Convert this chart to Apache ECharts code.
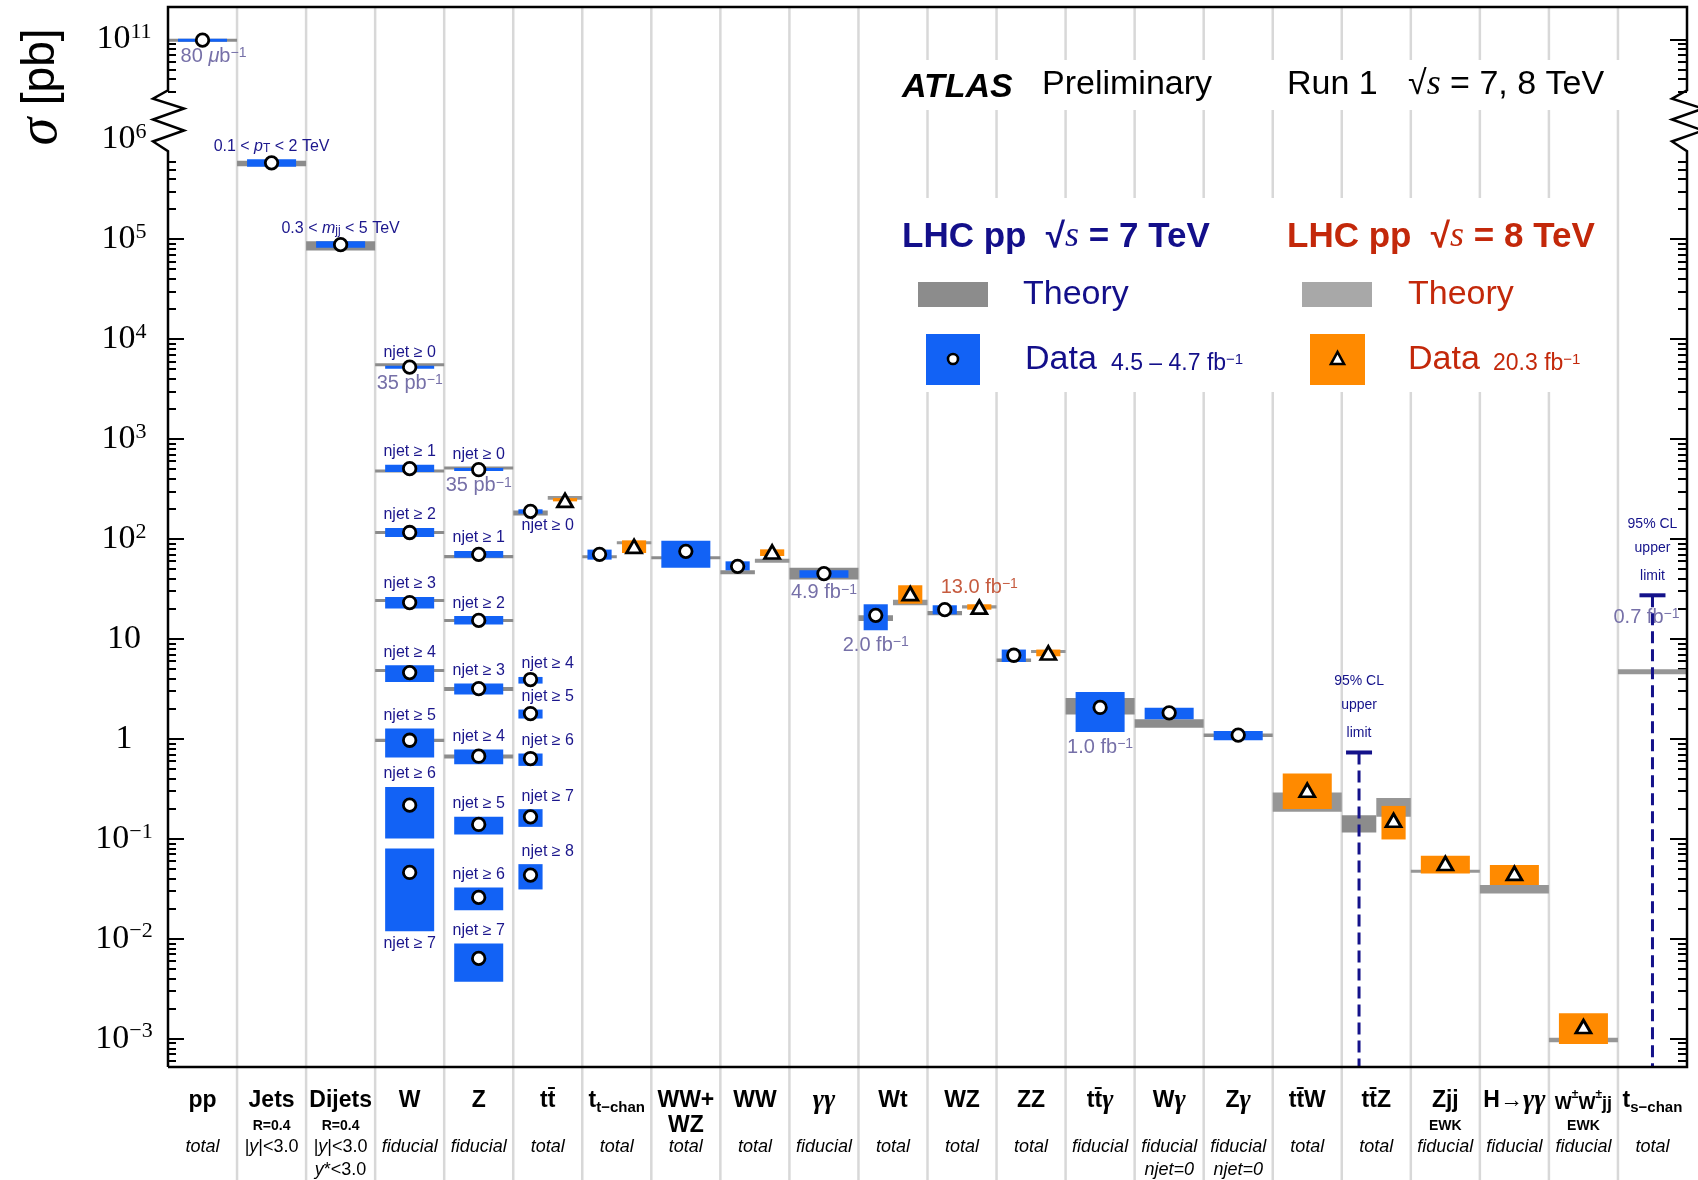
<!DOCTYPE html>
<html>
<head>
<meta charset="utf-8">
<title>ATLAS Run 1 cross sections</title>
<script src="https://cdn.jsdelivr.net/npm/echarts@6.0.0/dist/echarts.min.js"></script>
<style>
  html, body { margin: 0; padding: 0; background: #ffffff; }
  #chart { width: 1698px; height: 1180px; }
</style>
</head>
<body>
<div id="chart"></div>
<script>
const SANS = "'Liberation Sans', Arial, Helvetica, sans-serif"
const SERIF = "'Liberation Serif', 'Times New Roman', serif"
const NAVY = '#1b168c'
const LIMIT_NAVY = '#14128a'
const NOTE7 = '#7670a8'
const NOTE8 = '#c65b3f'
const BLUE = '#1262f5'
const ORANGE = '#ff8a00'
const GRAY7 = '#8c8c8c'
const GRAY8 = '#969696'

// processes along the bottom
const categories = ['pp', 'Jets', 'Dijets', 'W', 'Z', 'ttbar', 't t-chan', 'WW+WZ', 'WW', 'γγ', 'Wt', 'WZ', 'ZZ',
  'ttbarγ', 'Wγ', 'Zγ', 'ttbarW', 'ttbarZ', 'Zjj', 'H→γγ', 'W±W±jj', 't s-chan']
const labelRow1 = ['pp', 'Jets', 'Dijets', 'W', 'Z', 'tt\u0304', 't{sub|t\u2212chan}', 'WW+', 'WW', '{g|γγ}', 'Wt', 'WZ', 'ZZ',
  'tt\u0304{g|γ}', 'W{g|γ}', 'Z{g|γ}', 'tt\u0304W', 'tt\u0304Z', 'Zjj', 'H\u2192{g|γγ}', '{s|W}{pm|±}{s|W}{pm|±}{s|jj}', 't{sub|s\u2212chan}']
const labelRow2 = ['', 'R=0.4', 'R=0.4', '', '', '', '', '{big|WZ}', '', '', '', '', '', '', '', '', '', '', 'EWK', '', 'EWK', '']
const labelRow3 = ['total', '{r||}y{r||<3.0}', '{r||}y{r||<3.0}', 'fiducial', 'fiducial', 'total', 'total', 'total', 'total',
  'fiducial', 'total', 'total', 'total', 'fiducial', 'fiducial', 'fiducial', 'total', 'total', 'fiducial', 'fiducial', 'fiducial', 'total']
const labelRow4 = ['', '', 'y{r|*<3.0}', '', '', '', '', '', '', '', '', '', '', '', 'njet=0', 'njet=0', '', '', '', '', '', '']

// y tick labels (powers of ten), 10^11 sits above the axis break
const yExponents = [-3, -2, -1, 0, 1, 2, 3, 4, 5, 6, 11]

// 7 TeV data: [column, sigma pb, box low, box high, tag, tag side, note, note side]
const data7 = [
  [0, 9.8e10, 9.6e10, 1.0e11, '', '', '80 {it|μ}b{sup|\u22121}', 'down-right'],
  [1, 5.8e5, 5.3e5, 6.3e5, '0.1 < {it|p}{sub|T} < 2 TeV', 'up'],
  [2, 8.8e4, 8.2e4, 9.5e4, '0.3 < {it|m}{sub|jj} < 5 TeV', 'up'],
  [3, 5240, 5080, 5400, 'njet \u2265 0', 'up', '35 pb{sup|\u22121}', 'down'],
  [3, 505, 467, 553, 'njet \u2265 1', 'up'],
  [3, 116, 104.5, 128.5, 'njet \u2265 2', 'up'],
  [3, 23.1, 20.1, 26.2, 'njet \u2265 3', 'up'],
  [3, 4.6, 3.71, 5.45, 'njet \u2265 4', 'up'],
  [3, 0.968, 0.65, 1.27, 'njet \u2265 5', 'up'],
  [3, 0.217, 0.1007, 0.33, 'njet \u2265 6', 'up'],
  [3, 0.046, 0.0119, 0.08, 'njet \u2265 7', 'down'],
  [4, 493, 482, 512, 'njet \u2265 0', 'up', '35 pb{sup|\u22121}', 'down'],
  [4, 70.2, 65.0, 75.7, 'njet \u2265 1', 'up'],
  [4, 15.3, 13.9, 16.9, 'njet \u2265 2', 'up'],
  [4, 3.18, 2.77, 3.57, 'njet \u2265 3', 'up'],
  [4, 0.67, 0.557, 0.782, 'njet \u2265 4', 'up'],
  [4, 0.139, 0.1104, 0.1656, 'njet \u2265 5', 'up'],
  [4, 0.0259, 0.0193, 0.0326, 'njet \u2265 6', 'up'],
  [4, 0.00635, 0.00371, 0.00897, 'njet \u2265 7', 'up'],
  [5, 189, 179, 198, 'njet \u2265 0', 'down'],
  [5, 3.92, 3.57, 4.16, 'njet \u2265 4', 'up'],
  [5, 1.79, 1.596, 1.963, 'njet \u2265 5', 'up'],
  [5, 0.635, 0.536, 0.713, 'njet \u2265 6', 'up'],
  [5, 0.1656, 0.1315, 0.1977, 'njet \u2265 7', 'up'],
  [5, 0.0433, 0.0311, 0.0557, 'njet \u2265 8', 'up'],
  [6, 70.2, 62.1, 78.2],
  [7, 75.2, 51.6, 96.2],
  [8, 53.2, 48.5, 59.7],
  [9, 45.0, 41.0, 48.5, '', '', '4.9 fb{sup|\u22121}', 'down'],
  [10, 17.2, 12.2, 22.2, '', '', '2.0 fb{sup|\u22121}', 'down'],
  [11, 19.6, 17.6, 21.7],
  [12, 6.86, 5.87, 7.82],
  [13, 2.06, 1.17, 2.94, '', '', '1.0 fb{sup|\u22121}', 'down'],
  [14, 1.82, 1.57, 2.04],
  [15, 1.09, 0.968, 1.2]
]
// 7 TeV theory: [column, low, high]
const theory7 = [
  [0, 9.6e10, 1.0e11], [1, 5.36e5, 6.1e5], [2, 7.7e4, 9.5e4],
  [3, 5420, 5650], [3, 478, 478], [3, 116, 116], [3, 24.2, 24.2], [3, 4.82, 4.82], [3, 0.93, 1.0],
  [4, 512, 512], [4, 64.0, 69.0], [4, 15.3, 15.3], [4, 3.01, 3.3], [4, 0.635, 0.697],
  [5, 172, 193], [6, 66.5, 66.5], [7, 65.0, 65.0], [8, 44.3, 48.5], [9, 39.2, 51.6],
  [10, 15.1, 17.2], [11, 17.2, 19.0], [12, 5.87, 6.35], [13, 1.75, 2.56], [14, 1.29, 1.57],
  [15, 1.04, 1.13], [17, 0.1156, 0.172]
]
// 8 TeV data: [column, sigma pb, box low, box high, tag, tag side, note, note side]
const data8 = [
  [5, 243, 237.7, 256.4],
  [6, 84.3, 72.3, 96.8],
  [8, 74.0, 67.5, 78.7],
  [10, 28.4, 22.5, 34.4],
  [11, 20.8, 19.6, 22.2, '', '', '13.0 fb{sup|\u22121}', 'up'],
  [12, 7.23, 6.7, 7.82],
  [16, 0.306, 0.198, 0.45],
  [17, 0.153, 0.0984, 0.213],
  [18, 0.0566, 0.045, 0.0675],
  [19, 0.045, 0.0344, 0.0545],
  [20, 0.00132, 0.000883, 0.00179]
]
// 8 TeV theory: [column, low, high]
const theory8 = [
  [5, 247.2, 268.5], [6, 91.8, 91.8], [8, 57.9, 63.5], [10, 21.7, 24.7], [11, 20.1, 21.7],
  [12, 7.23, 7.69], [16, 0.186, 0.29], [17, 0.1656, 0.256], [18, 0.0463, 0.0485],
  [19, 0.0284, 0.0344], [20, 0.000918, 0.00102], [21, 4.43, 4.97]
]
// 95% CL upper limits: [column, energy, sigma pb, note]
const limits = [
  [17, 7, 0.73, ''],
  [21, 8, 27.3, '0.7 fb{sup|\u22121}']
]

// log scale with a break: values above 1e8 are shifted down by 4 decades
const toAxis = v => (v > 1e8 ? Math.log10(v) - 4 : Math.log10(v))
const Y_MIN = -3.284
const Y_MAX = 7.323
const NCOL = categories.length

const yLabelPos = yExponents.map(e => (e > 6 ? e - 4 : e))
const yMajor = yLabelPos.filter(t => t !== 6)
const yMinor = []
for (let d = -4; d <= 10; d++) {
  if (d >= 6 && d < 10) continue
  for (let k = 2; k <= 9; k++) {
    const v = k * Math.pow(10, d)
    if (d <= 5 && v > 6.5e5) continue
    if (d === 10 && k < 3) continue
    const t = toAxis(v)
    if (t > Y_MIN && t < Y_MAX) yMinor.push(t)
  }
}

const has7 = new Set([...data7, ...theory7].map(r => r[0]).concat(limits.filter(l => l[1] === 7).map(l => l[0])))
const has8 = new Set([...data8, ...theory8].map(r => r[0]).concat(limits.filter(l => l[1] === 8).map(l => l[0])))
const both = c => has7.has(c) && has8.has(c)
const xOf = (c, e) => c + 0.5 + (both(c) ? (e === 7 ? -0.25 : 0.25) : 0)
const bandHalf = c => (both(c) ? 0.25 : 0.5)
const boxHalf = c => (both(c) ? 0.175 : 0.355)

const bandItems = []
theory7.forEach(r => bandItems.push({ value: [xOf(r[0], 7), toAxis(r[1]), toAxis(r[2]), bandHalf(r[0])], itemStyle: { color: GRAY7 } }))
theory8.forEach(r => bandItems.push({ value: [xOf(r[0], 8), toAxis(r[1]), toAxis(r[2]), bandHalf(r[0])], itemStyle: { color: GRAY8 } }))
const boxItems = []
data7.forEach(r => boxItems.push({ value: [xOf(r[0], 7), toAxis(r[2]), toAxis(r[3]), boxHalf(r[0])], itemStyle: { color: BLUE } }))
data8.forEach(r => boxItems.push({ value: [xOf(r[0], 8), toAxis(r[2]), toAxis(r[3]), boxHalf(r[0])], itemStyle: { color: ORANGE } }))

// texts attached to boxes (jet multiplicity tags and luminosity notes)
const textMarks = []
const addTexts = (rows, e) => rows.forEach(r => {
  if (r[4]) {
    const down = r[5] === 'down'
    textMarks.push({ x: r[0] + 0.5, t: toAxis(down ? r[2] : r[3]), dx: 0, dy: down ? 12 : -13, text: r[4], color: NAVY, size: 16 })
  }
  if (r[6]) {
    const down = r[7].indexOf('down') === 0
    const dx = r[7] === 'down-right' ? 11 : 0
    textMarks.push({ x: xOf(r[0], e), t: toAxis(down ? r[2] : r[3]), dx: dx, dy: down ? 15 : -17, text: r[6], color: e === 8 ? NOTE8 : NOTE7, size: 20 })
  }
})
addTexts(data7, 7)
addTexts(data8, 8)
limits.forEach(l => {
  if (l[3]) textMarks.push({ x: xOf(l[0], l[1]), t: toAxis(l[2]), dx: -6, dy: 22, text: l[3], color: NOTE7, size: 20 })
})

const richFor = (color, size) => ({
  it: { fontStyle: 'italic', fontSize: size, fontFamily: SANS, fill: color },
  sub: { fontSize: Math.round(size * 0.72), fontFamily: SANS, fill: color, verticalAlign: 'bottom', lineHeight: Math.round(size * 0.8) },
  sup: { fontSize: Math.round(size * 0.68), fontFamily: SANS, fill: color, verticalAlign: 'top', lineHeight: Math.round(size * 0.7) }
})

const renderBand = (params, api) => {
  const x = api.value(0)
  const hw = api.value(3)
  const a = api.coord([x - hw, api.value(2)])
  const b = api.coord([x + hw, api.value(1)])
  let y = a[1]
  let h = b[1] - a[1]
  if (h < 3) {
    y = (a[1] + b[1]) / 2 - 1.5
    h = 3
  }
  return { type: 'rect', shape: { x: a[0], y: y, width: b[0] - a[0], height: h }, style: { fill: api.visual('color') } }
}

const renderText = (params, api) => {
  const m = textMarks[params.dataIndex]
  const p = api.coord([api.value(0), api.value(1)])
  return {
    type: 'text', x: p[0] + m.dx, y: p[1] + m.dy,
    style: {
      text: m.text, fill: m.color, fontSize: m.size, fontFamily: SANS,
      align: 'center', verticalAlign: 'middle', textAlign: 'center', textVerticalAlign: 'middle',
      rich: richFor(m.color, m.size)
    }
  }
}

const renderLimit = (params, api) => {
  const p = api.coord([api.value(0), api.value(1)])
  const bottom = api.coord([api.value(0), Y_MIN])
  const word = (dy, s) => ({
    type: 'text', x: p[0], y: p[1] + dy,
    style: { text: s, fill: LIMIT_NAVY, fontSize: 14, fontFamily: SANS, align: 'center', verticalAlign: 'middle', textAlign: 'center', textVerticalAlign: 'middle' }
  })
  return {
    type: 'group',
    children: [
      { type: 'line', shape: { x1: p[0], y1: p[1], x2: p[0], y2: bottom[1] }, style: { stroke: LIMIT_NAVY, lineWidth: 3, lineDash: [12, 6] } },
      { type: 'rect', shape: { x: p[0] - 13, y: p[1] - 2, width: 26, height: 4 }, style: { fill: LIMIT_NAVY } },
      word(-71, '95% CL'), word(-47, 'upper'), word(-19, 'limit')
    ]
  }
}

const renderGridLine = (params, api) => {
  const top = api.coord([api.value(0), Y_MAX])
  return { type: 'line', shape: { x1: top[0], y1: top[1], x2: top[0], y2: api.getHeight() }, style: { stroke: '#d8d8d8', lineWidth: 2.5 } }
}

// frame with the zigzag axis break on both sides
const renderFrame = (params, api) => {
  const lb = api.coord([0, Y_MIN])
  const rt = api.coord([NCOL, Y_MAX])
  const zTop = api.coord([0, 6.49])[1]
  const zBot = api.coord([0, 5.88])[1]
  const zz = [[0, 0], [-15, 0.14], [16, 0.3], [-15, 0.48], [16, 0.66], [-15, 0.84], [0, 1]]
  const pts = [[lb[0], lb[1]]]
  zz.slice().reverse().forEach(z => pts.push([lb[0] + z[0], zTop + (zBot - zTop) * z[1]]))
  pts.push([lb[0], rt[1]], [rt[0], rt[1]])
  zz.forEach(z => pts.push([rt[0] + z[0], zTop + (zBot - zTop) * z[1]]))
  pts.push([rt[0], lb[1]], [lb[0], lb[1]])
  return { type: 'polyline', shape: { points: pts }, style: { stroke: '#000', lineWidth: 2.5, fill: null } }
}

const rowAxis = (texts, margin, base, rich) => ({
  type: 'value', min: 0, max: NCOL, position: 'bottom',
  axisLine: { show: false, onZero: false }, axisTick: { show: false }, splitLine: { show: false },
  axisLabel: Object.assign({
    customValues: categories.map((c, i) => i + 0.5),
    margin: margin, align: 'center', verticalAlign: 'middle', color: '#000', fontFamily: SANS,
    rich: rich,
    formatter: v => texts[Math.floor(v)] || ''
  }, base)
})

const yAxisOf = (position, ticks, len, withLabels) => ({
  type: 'value', min: Y_MIN, max: Y_MAX, position: position,
  axisLine: { show: false, onZero: false }, splitLine: { show: false },
  axisTick: { show: true, inside: true, length: len, customValues: ticks, lineStyle: { color: '#000', width: 2 } },
  axisLabel: withLabels ? {
    customValues: yLabelPos, margin: 44, align: 'center', color: '#000',
    fontFamily: SERIF, fontSize: 33,
    formatter: v => {
      const e = yExponents[yLabelPos.findIndex(t => Math.abs(t - v) < 1e-6)]
      if (e === 0) return '{b|1}'
      if (e === 1) return '{b|10}'
      return '{b|10}{e|' + String(e).replace('-', '\u2212') + '}'
    },
    rich: {
      b: { fontFamily: SERIF, fontSize: 34, lineHeight: 36, color: '#000' },
      e: { fontFamily: SERIF, fontSize: 22, lineHeight: 20, verticalAlign: 'top', color: '#000' }
    }
  } : { show: false }
})

const gtext = (x, y, text, o) => {
  const align = (o && o.align) || 'left'
  return {
    type: 'text', x: x, y: y, z: 10, silent: true, rotation: (o && o.rotation) || 0,
    style: Object.assign({
      text: text, fill: '#000', fontFamily: SANS, fontSize: 34,
      align: align, verticalAlign: 'middle', textAlign: align, textVerticalAlign: 'middle'
    }, o && o.style)
  }
}
const mathRich = color => ({
  i: { fontFamily: SERIF, fontStyle: 'italic', fontSize: 36, fill: color },
  s: { fontSize: 14, fill: color, verticalAlign: 'top', lineHeight: 14 }
})

const myChart = echarts.init(document.getElementById('chart'), null, { renderer: 'canvas' })
const option = {
  animation: false,
  backgroundColor: '#ffffff',
  grid: { left: 168, right: 11, top: 7, bottom: 113, outerBoundsMode: 'none' },
  xAxis: [
    rowAxis(labelRow1, 34, { fontSize: 23, fontWeight: 'bold', lineHeight: 28 }, {
      sub: { fontSize: 15, fontWeight: 'bold', fontFamily: SANS, verticalAlign: 'bottom', lineHeight: 18 },
      g: { fontSize: 27, fontStyle: 'italic', fontFamily: SERIF, lineHeight: 28 },
      s: { fontSize: 18, fontWeight: 'bold', fontFamily: SANS, lineHeight: 24, verticalAlign: 'bottom' },
      pm: { fontSize: 12, fontWeight: 'bold', fontFamily: SANS, lineHeight: 14, verticalAlign: 'top' }
    }),
    rowAxis(labelRow2, 59, { fontSize: 14, fontWeight: 'bold' }, {
      big: { fontSize: 23, fontWeight: 'bold', fontFamily: SANS }
    }),
    rowAxis(labelRow3, 80, { fontSize: 18, fontStyle: 'italic' }, {
      r: { fontSize: 18, fontStyle: 'normal', fontFamily: SANS }
    }),
    rowAxis(labelRow4, 103, { fontSize: 18, fontStyle: 'italic' }, {
      r: { fontSize: 18, fontStyle: 'normal', fontFamily: SANS }
    })
  ],
  yAxis: [
    yAxisOf('left', yMajor, 16, true),
    yAxisOf('left', yMinor, 8, false),
    yAxisOf('right', yMajor, 17, false),
    yAxisOf('right', yMinor, 9, false)
  ],
  graphic: {
    elements: [
      { type: 'rect', z: 1, silent: true, shape: { x: 885, y: 60, width: 747, height: 50 }, style: { fill: '#ffffff' } },
      { type: 'rect', z: 1, silent: true, shape: { x: 893, y: 198, width: 719, height: 194 }, style: { fill: '#ffffff' } },
      gtext(41, 87, '{s|σ} [pb]', {
        align: 'center', rotation: Math.PI / 2,
        style: { fontSize: 46, rich: { s: { fontFamily: SERIF, fontStyle: 'italic', fontSize: 56 } } }
      }),
      gtext(902, 88, 'ATLAS', { style: { fontWeight: 'bold', fontStyle: 'italic' } }),
      gtext(1042, 85, 'Preliminary'),
      gtext(1287, 85, 'Run 1'),
      gtext(1408, 85, '√{i|s} = 7, 8 TeV', { style: { rich: mathRich('#000') } }),
      gtext(902, 237, 'LHC pp  √{i|s} = 7 TeV', { style: { fill: '#130f8a', fontWeight: 'bold', fontSize: 35, rich: mathRich('#130f8a') } }),
      gtext(1287, 237, 'LHC pp  √{i|s} = 8 TeV', { style: { fill: '#c3280a', fontWeight: 'bold', fontSize: 35, rich: mathRich('#c3280a') } }),
      { type: 'rect', z: 10, silent: true, shape: { x: 918, y: 282, width: 70, height: 25 }, style: { fill: GRAY7 } },
      gtext(1023, 295, 'Theory', { style: { fill: '#130f8a' } }),
      { type: 'rect', z: 10, silent: true, shape: { x: 1302, y: 282, width: 70, height: 25 }, style: { fill: '#a8a8a8' } },
      gtext(1408, 295, 'Theory', { style: { fill: '#c3280a' } }),
      { type: 'rect', z: 10, silent: true, shape: { x: 926, y: 334, width: 54, height: 51 }, style: { fill: BLUE } },
      { type: 'circle', z: 11, silent: true, shape: { cx: 953, cy: 359, r: 5 }, style: { fill: '#fff', stroke: '#000', lineWidth: 2.6 } },
      gtext(1025, 360, 'Data', { style: { fill: '#130f8a' } }),
      gtext(1111, 364, '4.5 \u2013 4.7 fb{s|\u22121}', { style: { fill: '#130f8a', fontSize: 23, rich: { s: { fontSize: 15, fill: '#130f8a', verticalAlign: 'top', lineHeight: 14 } } } }),
      { type: 'rect', z: 10, silent: true, shape: { x: 1310, y: 334, width: 55, height: 51 }, style: { fill: ORANGE } },
      { type: 'polygon', z: 11, silent: true, shape: { points: [[1337.5, 352], [1331, 364], [1344, 364]] }, style: { fill: '#fff', stroke: '#000', lineWidth: 2.6 } },
      gtext(1408, 360, 'Data', { style: { fill: '#c3280a' } }),
      gtext(1493, 364, '20.3 fb{s|\u22121}', { style: { fill: '#c3280a', fontSize: 23, rich: { s: { fontSize: 15, fill: '#c3280a', verticalAlign: 'top', lineHeight: 14 } } } })
    ]
  },
  series: [
    {
      type: 'custom', name: 'grid lines', z: 0, silent: true, renderItem: renderGridLine,
      data: categories.slice(1).map((c, i) => [i + 1, Y_MIN]), encode: { x: 0, y: 1 }
    },
    {
      type: 'custom', name: 'theory', z: 3, silent: true, renderItem: renderBand,
      data: bandItems, encode: { x: 0, y: [1, 2] }
    },
    {
      type: 'custom', name: 'data', z: 4, silent: true, renderItem: renderBand,
      data: boxItems, encode: { x: 0, y: [1, 2] }
    },
    {
      type: 'custom', name: 'notes', z: 5, silent: true, renderItem: renderText,
      data: textMarks.map(m => [m.x, m.t]), encode: { x: 0, y: 1 }
    },
    {
      type: 'custom', name: 'limits', z: 6, silent: true, renderItem: renderLimit,
      data: limits.map(l => [xOf(l[0], l[1]), toAxis(l[2])]), encode: { x: 0, y: 1 }
    },
    {
      type: 'scatter', name: 'Data 7 TeV', z: 7, silent: true, symbol: 'circle', symbolSize: 12.5,
      itemStyle: { color: '#ffffff', borderColor: '#000000', borderWidth: 2.8, opacity: 1 },
      data: data7.map(r => [xOf(r[0], 7), toAxis(r[1])])
    },
    {
      type: 'scatter', name: 'Data 8 TeV', z: 7, silent: true, symbol: 'triangle', symbolSize: [15, 13],
      itemStyle: { color: '#ffffff', borderColor: '#000000', borderWidth: 2.8, opacity: 1 },
      data: data8.map(r => [xOf(r[0], 8), toAxis(r[1])])
    },
    {
      type: 'custom', name: 'frame', z: 8, silent: true, renderItem: renderFrame,
      data: [[0, Y_MIN]], encode: { x: 0, y: 1 }
    }
  ]
}
myChart.setOption(option)
window.addEventListener('resize', () => myChart.resize())
</script>
</body>
</html>
